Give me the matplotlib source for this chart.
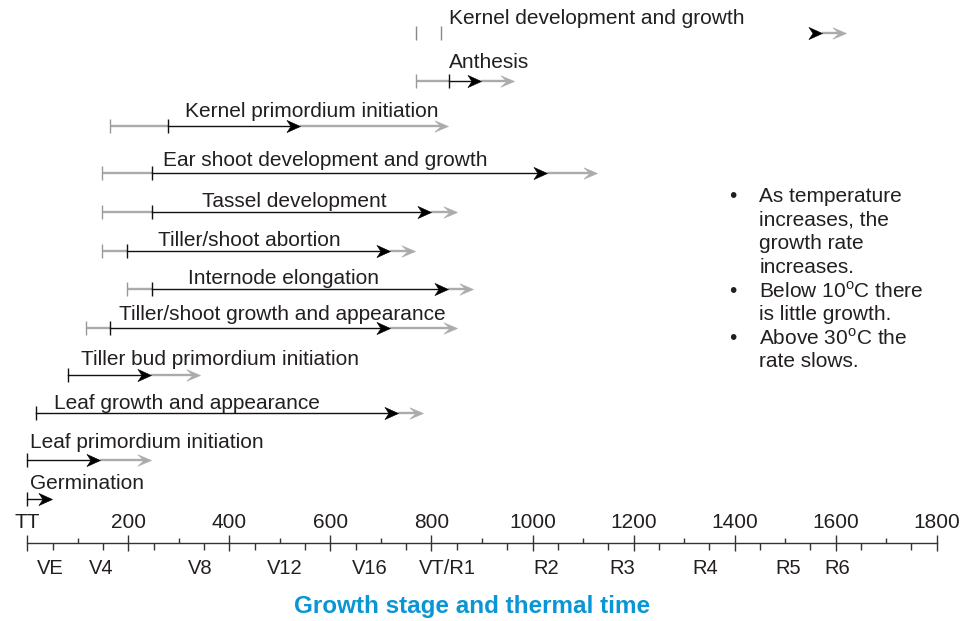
import numpy as np
import matplotlib.pyplot as plt
from matplotlib.path import Path

plt.rcParams['font.family'] = ['Liberation Sans', 'DejaVu Sans']
plt.rcParams['mathtext.fontset'] = 'custom'
plt.rcParams['mathtext.rm'] = 'Liberation Sans'

# -----------------------------
# DATA (thermal time, TT)
# -----------------------------
processes = [
    "Kernel development and growth",
    "Anthesis",
    "Kernel primordium initiation",
    "Ear shoot development and growth",
    "Tassel development",
    "Tiller/shoot abortion",
    "Internode elongation",
    "Tiller/shoot growth and appearance",
    "Tiller bud primordium initiation",
    "Leaf growth and appearance",
    "Leaf primordium initiation",
    "Germination",
]
gray_start = [769, 769, 164, 147, 147, 147, 197, 116, 81, 17, 0, 0]
black_start = [818, 835, 278, 246, 246, 197, 246, 164, 81, 17, 0, 0]
black_end = [1572, 899, 540, 1028, 800, 718, 833, 718, 244, 734, 144, 48]
gray_end = [1620, 964, 833, 1128, 850, 768, 883, 850, 342, 784, 244, np.nan]

major_ticks = list(range(0, 1801, 200))
major_labels = ["TT"] + [str(v) for v in major_ticks[1:]]
up_ticks = list(range(100, 1800, 200))
down_ticks = list(range(50, 1800, 100))

stages = ["VE", "V4", "V8", "V12", "V16", "VT/R1", "R2", "R3", "R4", "R5", "R6"]
stage_tt = [45, 147, 343, 510, 678, 832, 1028, 1178, 1342, 1507, 1604]

notes = [
    ["As temperature", "increases, the", "growth rate", "increases."],
    ["Below 10$^{\\rm o}$C there", "is little growth."],
    ["Above 30$^{\\rm o}$C the", "rate slows."],
]

# -----------------------------
# LAYOUT
# -----------------------------
row_y = [33.3, 80.7, 126, 173, 211.7, 250.7, 289.3, 328.3, 375, 413.3, 460, 499.3]
label_x = [835, 835, 312, 269, 345, 259, 319, 182, 106, 53, 5, 5]
label_y = [18, 62, 111.7, 160, 201.7, 240, 278.3, 315, 359.3, 403.3, 442.7, 483.3]
draw_main = [False] + [True] * 11

GRAY = "#ababab"
DARK = "#111111"
TEXT = "#231f20"
FS = 15

black_head = Path([(0, 0), (-1, 0.45), (-0.7, 0), (-1, -0.45), (0, 0)],
                  [Path.MOVETO, Path.LINETO, Path.LINETO, Path.LINETO, Path.CLOSEPOLY])
gray_head = Path([(0, 0), (-1, 0.42), (-0.55, 0), (-1, -0.42), (0, 0)],
                 [Path.MOVETO, Path.LINETO, Path.LINETO, Path.LINETO, Path.CLOSEPOLY])

fig = plt.figure(figsize=(9.67, 6.21), dpi=100)
ax = fig.add_axes([0, 0, 1, 1])
ax.axis("off")

# pixel mapping: 0 TT at x=27.3 px, 1800 TT at x=936.7 px
px0, scale = 27.3, 909.4 / 1800
ax.set_xlim(-px0 / scale, (967 - px0) / scale)
ax.set_ylim(621, 0)

for i, name in enumerate(processes):
    y = row_y[i]
    gs, bs, be, ge = gray_start[i], black_start[i], black_end[i], gray_end[i]

    # gray extension after black arrow
    if not np.isnan(ge):
        ax.plot([be, ge - 8], [y, y], color=GRAY, lw=1.7, solid_capstyle="butt", zorder=2)
        ax.plot([ge], [y], marker=gray_head, markersize=19.5, color=GRAY,
                markeredgewidth=0.4, zorder=2)

    if draw_main[i]:
        if bs > gs:
            ax.plot([gs, bs], [y, y], color=GRAY, lw=1.7, solid_capstyle="butt", zorder=2)
        ax.plot([bs, be - 5], [y, y], color=DARK, lw=1.0, zorder=3)

    ax.plot([be], [y], marker=black_head, markersize=19.5, color="black",
            markeredgewidth=0.4, zorder=4)

    # start ticks
    if bs > gs:
        if draw_main[i]:
            ax.vlines(gs, y - 7, y + 7, color="#999999", lw=1.0, zorder=3)
            ax.vlines(bs, y - 7, y + 7, color=DARK, lw=1.0, zorder=3)
        else:
            ax.vlines([gs, bs], y - 7, y + 7, color="#888888", lw=1.0, zorder=3)
    else:
        ax.vlines(bs, y - 7, y + 7, color=DARK, lw=1.0, zorder=3)

    ax.text(label_x[i], label_y[i], name, fontsize=FS, color=TEXT,
            ha="left", va="center")

# -----------------------------
# THERMAL TIME AXIS
# -----------------------------
axis_y = 543.3
ax.plot([0, 1800], [axis_y, axis_y], color="#333333", lw=1.0)
ax.vlines(major_ticks, axis_y - 8, axis_y + 8, color="#333333", lw=1.0)
ax.vlines(up_ticks, axis_y - 5, axis_y, color="#333333", lw=1.0)
ax.vlines(down_ticks, axis_y, axis_y + 7, color="#333333", lw=1.0)

for v, lab in zip(major_ticks, major_labels):
    ax.text(v, 522, lab, fontsize=FS, color=TEXT, ha="center", va="center")

for v, lab in zip(stage_tt, stages):
    ax.text(v, 568.5, lab, fontsize=14.5, color=TEXT, ha="center", va="center")

ax.text(880, 607, "Growth stage and thermal time", fontsize=17.5,
        fontweight="bold", color="#0a96d4", ha="center", va="center")

# -----------------------------
# NOTES
# -----------------------------
bullet_x = (733.3 - px0) / scale
note_x = (759.3 - px0) / scale
line_y = 196.7
for block in notes:
    ax.text(bullet_x, line_y, "\u2022", fontsize=FS, color=TEXT, ha="center", va="center")
    for line in block:
        ax.text(note_x, line_y, line, fontsize=FS, color=TEXT, ha="left", va="center")
        line_y += 23.6

fig.savefig("out.png", dpi=100)
